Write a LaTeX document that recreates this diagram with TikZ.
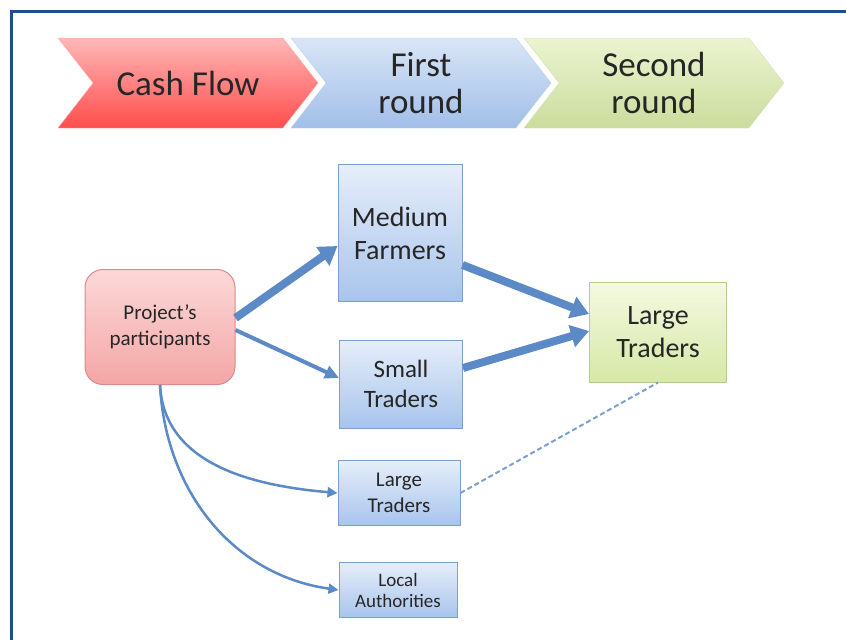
\documentclass[tikz,border=0pt]{standalone}
\usepackage{fontspec}
\setmainfont{Carlito}
\usetikzlibrary{positioning,arrows.meta,shapes.symbols}

\definecolor{frameblue}{HTML}{1F4E8C}
\definecolor{flowblue}{HTML}{5B8AC6}
\definecolor{boxedge}{HTML}{7C9FD0}
\definecolor{boxtop}{HTML}{E6EEFA}
\definecolor{boxbot}{HTML}{A8C4EC}
\definecolor{pinkedge}{HTML}{D98A8A}
\definecolor{pinktop}{HTML}{FCD8D8}
\definecolor{pinkbot}{HTML}{F4A6A6}
\definecolor{greenedge}{HTML}{B8CB8C}
\definecolor{greentop}{HTML}{F4F9E2}
\definecolor{greenbot}{HTML}{D6E8A6}

\begin{document}
\begin{tikzpicture}[x=1pt,y=-1pt,
  box/.style={draw=boxedge, top color=boxtop, bottom color=boxbot,
              align=center, line width=1pt, inner sep=0pt, text=black!85},
  chev/.style={signal, signal from=west, signal to=east,
               signal pointer angle=104, minimum width=260pt,
               minimum height=90pt, inner sep=0pt, align=center,
               text=black!85, font=\fontsize{35}{37}\selectfont},
  flow/.style={draw=flowblue},
]
\useasboundingbox (0,0) rectangle (846,640);
\draw[frameblue, line width=3pt] (11,640) -- (11,11) -- (846,11);

% the three rounds
\node[chev, top color=red!28, bottom color=red!70!white, draw=red!35]
  (cash) at (188,83) {Cash Flow};
\node[chev, top color=boxtop!80!boxbot, bottom color=boxbot!85!boxedge, draw=boxedge!50]
  (first) at (421,83) {First\\round};
\node[chev, top color=greentop!70!greenbot, bottom color=greenbot!95!black, draw=greenedge!60]
  (second) at (654,83) {Second\\round};

% actors
\node[box, draw=pinkedge, top color=pinktop, bottom color=pinkbot,
      rounded corners=18pt, minimum width=150pt, minimum height=115pt,
      font=\fontsize{21}{26}\selectfont] (proj) at (160,327) {Project's\\participants};
\node[box, minimum width=124pt, minimum height=137pt,
      font=\fontsize{28}{33}\selectfont] (mf) at (400,233) {Medium\\Farmers};
\node[box, minimum width=123pt, minimum height=88pt,
      font=\fontsize{25}{30}\selectfont] (st) at (401,384) {Small\\Traders};
\node[box, draw=greenedge, top color=greentop, bottom color=greenbot,
      minimum width=137pt, minimum height=100pt,
      font=\fontsize{28}{33}\selectfont] (lt) at (658,332) {Large\\Traders};
\node[box, minimum width=122pt, minimum height=65pt,
      font=\fontsize{21}{26}\selectfont] (ltb) at (399,493) {Large\\Traders};
\node[box, minimum width=118pt, minimum height=55pt,
      font=\fontsize{19}{21}\selectfont] (la) at (398,590) {Local\\Authorities};

% money flows
\draw[flow, line width=8pt, -{Triangle[length=18pt,width=22pt]}]
  ([yshift=9pt]proj.east) -- ([yshift=-13pt]mf.west);
\draw[flow, line width=4pt, -{Triangle[length=14pt,width=13pt]}]
  ([yshift=-3pt]proj.east) -- ([yshift=6pt]st.west);
\draw[flow, line width=8pt, -{Triangle[length=18pt,width=22pt]}]
  ([yshift=-32pt]mf.east) -- ([yshift=18pt]lt.west);
\draw[flow, line width=8pt, -{Triangle[length=18pt,width=22pt]}]
  ([yshift=16pt]st.east) -- ([yshift=1pt]lt.west);
\draw[flow, line width=2.5pt, -{Triangle[length=10pt,width=10pt]}]
  (proj.south) to[out=-87,in=175] (ltb.west);
\draw[flow, line width=2.5pt, -{Triangle[length=10pt,width=10pt]}]
  (proj.south) to[out=-87,in=172] (la.west);
\draw[flow, draw=boxedge, line width=2pt, dash pattern=on 5pt off 3pt]
  (ltb.east) -- (lt.south);
\end{tikzpicture}
\end{document}
